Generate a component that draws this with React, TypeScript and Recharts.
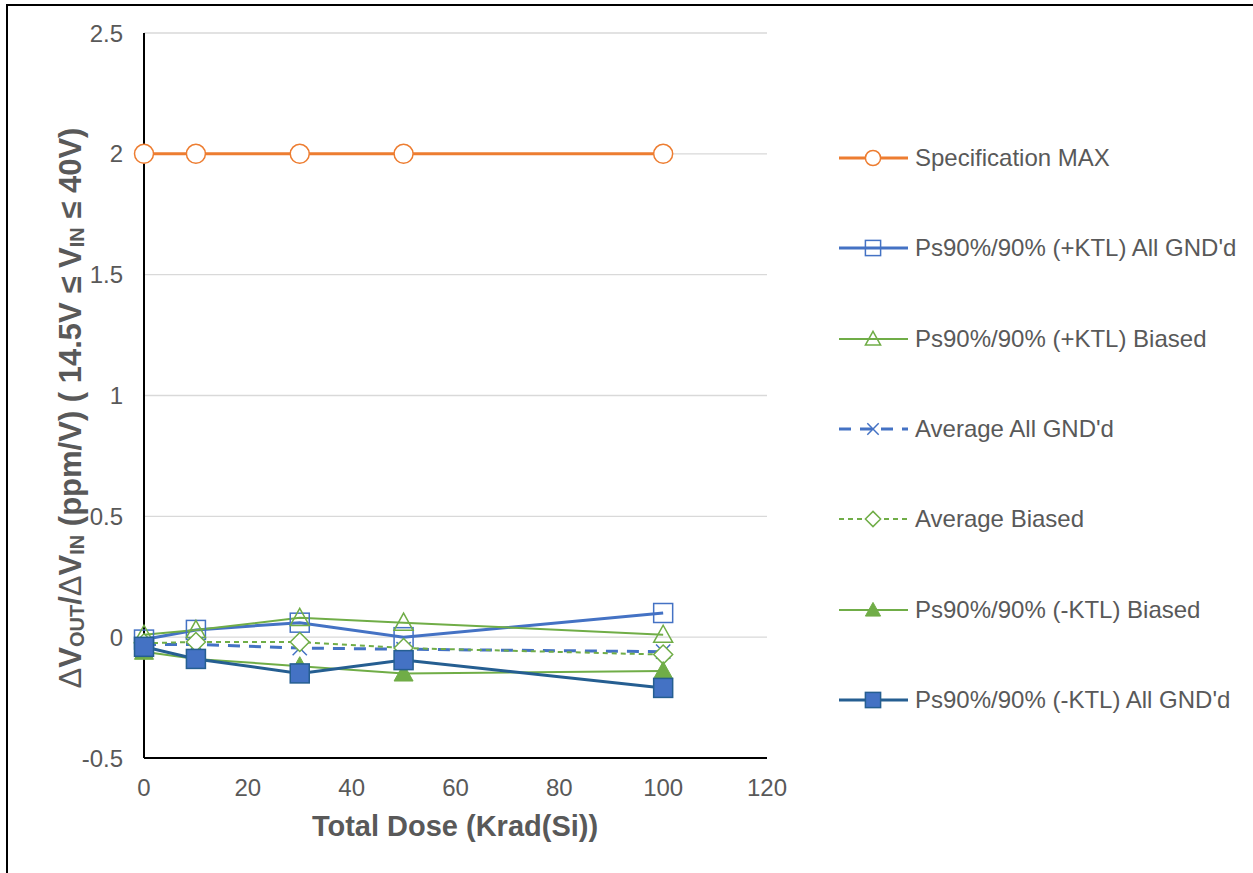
import React from 'react';
import {
  LineChart,
  Line,
  XAxis,
  YAxis,
  CartesianGrid,
  Label,
} from 'recharts';

const doses = [0, 10, 30, 50, 100];
const specMax = [2, 2, 2, 2, 2];
const plusKtlGnd = [-0.01, 0.03, 0.06, 0.0, 0.1];
const plusKtlBiased = [0.01, 0.03, 0.08, 0.06, 0.01];
const avgGnd = [-0.03, -0.03, -0.045, -0.05, -0.06];
const avgBiased = [-0.025, -0.02, -0.02, -0.045, -0.072];
const minusKtlBiased = [-0.06, -0.09, -0.12, -0.15, -0.14];
const minusKtlGnd = [-0.04, -0.09, -0.15, -0.095, -0.21];

const xTicks = [0, 20, 40, 60, 80, 100, 120];
const yTicks = [-0.5, 0, 0.5, 1, 1.5, 2, 2.5];

const ORANGE = '#ED7D31';
const BLUE = '#4472C4';
const GREEN = '#70AD47';
const DARK_BLUE = '#255E91';
const TEXT = '#595959';
const FONT = '"Liberation Sans", Arial, sans-serif';

const data = doses.map((d, i) => ({
  dose: d,
  specMax: specMax[i],
  plusKtlGnd: plusKtlGnd[i],
  plusKtlBiased: plusKtlBiased[i],
  avgGnd: avgGnd[i],
  avgBiased: avgBiased[i],
  minusKtlBiased: minusKtlBiased[i],
  minusKtlGnd: minusKtlGnd[i],
}));

type Shape = 'circle' | 'square' | 'triangle' | 'cross' | 'diamond' | 'triFill' | 'sqFill';

function marker(shape: Shape, cx: number, cy: number, color: string, key?: any, scale = 1) {
  const s = 9.5 * scale;
  switch (shape) {
    case 'circle':
      return <circle key={key} cx={cx} cy={cy} r={s} fill="#fff" stroke={color} strokeWidth={1.5} />;
    case 'square':
      return <rect key={key} x={cx - s} y={cy - s} width={2 * s} height={2 * s} fill="none" stroke={color} strokeWidth={1.5} />;
    case 'sqFill':
      return <rect key={key} x={cx - s} y={cy - s} width={2 * s} height={2 * s} fill={BLUE} stroke={DARK_BLUE} strokeWidth={1.5} />;
    case 'triangle':
      return <path key={key} d={`M${cx},${cy - s} L${cx + s},${cy + s * 0.8} L${cx - s},${cy + s * 0.8} Z`} fill="none" stroke={color} strokeWidth={1.5} />;
    case 'triFill':
      return <path key={key} d={`M${cx},${cy - s} L${cx + s},${cy + s * 0.8} L${cx - s},${cy + s * 0.8} Z`} fill={color} stroke={color} strokeWidth={1} />;
    case 'diamond':
      return <path key={key} d={`M${cx},${cy - s} L${cx + s},${cy} L${cx},${cy + s} L${cx - s},${cy} Z`} fill="#fff" stroke={color} strokeWidth={1.5} />;
    case 'cross': {
      const c = s * 0.75;
      return (
        <path key={key} d={`M${cx - c},${cy - c} L${cx + c},${cy + c} M${cx + c},${cy - c} L${cx - c},${cy + c}`} stroke={color} strokeWidth={1.5} fill="none" />
      );
    }
  }
}

const dotFor = (shape: Shape, color: string) => (p: any) => marker(shape, p.cx, p.cy, color, `${shape}-${p.index}`);

const series = [
  { key: 'specMax', name: 'Specification MAX', color: ORANGE, width: 3, dash: undefined, shape: 'circle' as Shape },
  { key: 'plusKtlGnd', name: "Ps90%/90% (+KTL) All GND'd", color: BLUE, width: 3, dash: undefined, shape: 'square' as Shape },
  { key: 'plusKtlBiased', name: 'Ps90%/90% (+KTL) Biased', color: GREEN, width: 2, dash: undefined, shape: 'triangle' as Shape },
  { key: 'avgGnd', name: "Average All GND'd", color: BLUE, width: 3, dash: '12 9', shape: 'cross' as Shape },
  { key: 'avgBiased', name: 'Average Biased', color: GREEN, width: 2, dash: '5 4', shape: 'diamond' as Shape },
  { key: 'minusKtlBiased', name: 'Ps90%/90% (-KTL) Biased', color: GREEN, width: 2, dash: undefined, shape: 'triFill' as Shape },
  { key: 'minusKtlGnd', name: "Ps90%/90% (-KTL) All GND'd", color: DARK_BLUE, width: 3, dash: undefined, shape: 'sqFill' as Shape },
];

function YTitle() {
  const cx = 70;
  const cy = 408;
  return (
    <text
      x={cx}
      y={cy}
      transform={`rotate(-90 ${cx} ${cy})`}
      textAnchor="middle"
      dominantBaseline="central"
      fill={TEXT}
      fontFamily={FONT}
      fontSize={31}
      fontWeight="bold"
    >
      <tspan fontWeight="normal">Δ</tspan>
      <tspan>V</tspan>
      <tspan fontSize={20} dy={7}>OUT</tspan>
      <tspan dy={-7}>/</tspan>
      <tspan fontWeight="normal">Δ</tspan>
      <tspan>V</tspan>
      <tspan fontSize={20} dy={7}>IN</tspan>
      <tspan dy={-7}> (ppm/V) ( 14.5V ≤ V</tspan>
      <tspan fontSize={20} dy={7}>IN</tspan>
      <tspan dy={-7}> ≤ 40V)</tspan>
    </text>
  );
}

function XTitle() {
  return (
    <text x={455} y={836} textAnchor="middle" fill={TEXT} fontFamily={FONT} fontSize={29} fontWeight="bold">
      Total Dose (Krad(Si))
    </text>
  );
}

function ChartLegend() {
  return (
    <>
      {series.map((s, i) => {
        const cy = 158 + i * 90.33;
        return (
          <div
            key={s.key}
            style={{
              position: 'absolute',
              left: 838,
              top: cy - 15,
              height: 30,
              display: 'flex',
              alignItems: 'center',
              whiteSpace: 'nowrap',
            }}
          >
            <svg width={72} height={30}>
              <line x1={1} y1={15} x2={70} y2={15} stroke={s.color} strokeWidth={s.width} strokeDasharray={s.dash} />
              {marker(s.shape, 35, 15, s.color, undefined, 0.8)}
            </svg>
            <span style={{ marginLeft: 5, fontFamily: FONT, fontSize: 24, color: TEXT }}>{s.name}</span>
          </div>
        );
      })}
    </>
  );
}

export default function App() {
  return (
    <div style={{ position: 'absolute', left: 0, top: 0, width: 1253, height: 873, background: '#fff', overflow: 'hidden' }}>
      <div
        style={{
          position: 'absolute',
          left: 6,
          top: 4,
          width: 1300,
          height: 900,
          borderLeft: '2px solid #000',
          borderTop: '2px solid #000',
        }}
      />
      <LineChart
        width={1253}
        height={873}
        data={data}
        margin={{ top: 33, right: 486, bottom: 55, left: 64 }}
        style={{ position: 'absolute', left: 0, top: 0 }}
      >
        <CartesianGrid horizontal vertical={false} stroke="#D9D9D9" strokeWidth={1.3} />
        <XAxis
          dataKey="dose"
          type="number"
          domain={[0, 120]}
          ticks={xTicks}
          height={60}
          tickLine={false}
          tickMargin={15}
          fontSize={24}
          axisLine={{ stroke: '#000', strokeWidth: 2 }}
          tick={{ fill: TEXT, fontSize: 24, fontFamily: FONT }}
        >
          <Label content={<XTitle />} />
        </XAxis>
        <YAxis
          type="number"
          domain={[-0.5, 2.5]}
          ticks={yTicks}
          width={80}
          tickLine={false}
          tickMargin={15}
          fontSize={24}
          axisLine={{ stroke: '#000', strokeWidth: 2 }}
          tick={{ fill: TEXT, fontSize: 24, fontFamily: FONT }}
          allowDataOverflow
        >
          <Label content={<YTitle />} />
        </YAxis>
        {series.map((s) => (
          <Line
            key={s.key}
            dataKey={s.key}
            name={s.name}
            type="linear"
            stroke={s.color}
            strokeWidth={s.width}
            strokeDasharray={s.dash}
            dot={dotFor(s.shape, s.color)}
            activeDot={false}
            isAnimationActive={false}
          />
        ))}
      </LineChart>
      <ChartLegend />
    </div>
  );
}
